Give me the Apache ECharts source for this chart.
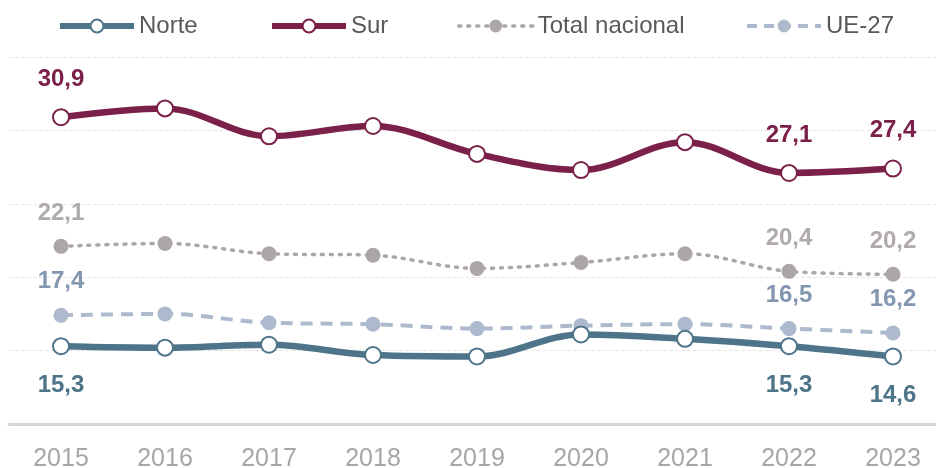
<!DOCTYPE html>
<html>
<head>
<meta charset="utf-8">
<script src="https://cdn.jsdelivr.net/npm/echarts@6/dist/echarts.min.js"></script>
<style>
  html, body { margin: 0; padding: 0; background: #fff; }
  #chart { width: 936px; height: 468px; }
</style>
</head>
<body>
<div id="chart"></div>
<script>
var years = ['2015', '2016', '2017', '2018', '2019', '2020', '2021', '2022', '2023'];
var norte = [15.3, 15.2, 15.4, 14.7, 14.6, 16.1, 15.8, 15.3, 14.6];
var sur = [30.9, 31.5, 29.6, 30.3, 28.4, 27.3, 29.2, 27.1, 27.4];
var totalNacional = [22.1, 22.3, 21.6, 21.5, 20.6, 21.0, 21.6, 20.4, 20.2];
var ue27 = [17.4, 17.5, 16.9, 16.8, 16.5, 16.7, 16.8, 16.5, 16.2];
var labelledIdx = [0, 7, 8];

var labelFmt = function (p) {
    return labelledIdx.indexOf(p.dataIndex) >= 0 ? p.value.toFixed(1).replace('.', ',') : '';
};

var mkLabel = function (color, pos, dist) {
    return {
        show: true,
        position: pos,
        distance: dist,
        formatter: labelFmt,
        color: color,
        fontSize: 24,
        fontWeight: 'bold',
        fontFamily: 'Liberation Sans'
    };
};

var legendBase = function (name, left, lineStyle) {
    return {
        data: [name],
        left: left,
        top: 9,
        itemWidth: 74,
        itemHeight: 16,
        lineStyle: lineStyle,
        textStyle: { color: '#595959', fontSize: 24, fontFamily: 'Liberation Sans' }
    };
};

var option = {
    animation: false,
    legend: [
        legendBase('Norte', 52, { width: 6 }),
        legendBase('Sur', 264, { width: 6 }),
        legendBase('Total nacional', 452, { width: 3.5, type: [2, 7], cap: 'round' }),
        legendBase('UE-27', 740, { width: 4, type: [10, 7] })
    ],
    grid: { left: 9, right: -9, top: 57, bottom: 44, outerBoundsMode: 'none' },
    xAxis: {
        type: 'category',
        data: years,
        boundaryGap: true,
        axisTick: { show: false },
        axisLine: { lineStyle: { color: '#d6d6d6', width: 3 } },
        axisLabel: { color: '#a6a6a6', fontSize: 25, margin: 23, fontFamily: 'Liberation Sans' }
    },
    yAxis: {
        type: 'value',
        min: 10,
        max: 35,
        interval: 5,
        axisLabel: { show: false },
        axisLine: { show: false },
        axisTick: { show: false },
        splitLine: { lineStyle: { color: '#e6e6e6', type: 'dashed', width: 1 } }
    },
    series: [
        {
            name: 'UE-27',
            type: 'line',
            data: ue27,
            smooth: 0.35,
            symbol: 'circle',
            symbolSize: 15,
            itemStyle: { color: '#adb9cc' },
            lineStyle: { color: '#adb9cc', width: 4, type: [12, 8] },
            label: mkLabel('#8497b0', 'top', 14),
            z: 2
        },
        {
            name: 'Total nacional',
            type: 'line',
            data: totalNacional,
            smooth: 0.35,
            symbol: 'circle',
            symbolSize: 15,
            itemStyle: { color: '#aca6a6' },
            lineStyle: { color: '#aca6a6', width: 3.5, type: [2, 7], cap: 'round' },
            label: mkLabel('#b0aaaa', 'top', 13),
            z: 2
        },
        {
            name: 'Norte',
            type: 'line',
            data: norte,
            smooth: 0.35,
            symbol: 'circle',
            symbolSize: 16,
            itemStyle: { color: '#fff', borderColor: '#4e7489', borderWidth: 2 },
            lineStyle: { color: '#4e7489', width: 6.5 },
            label: mkLabel('#4e7489', 'bottom', 18),
            z: 3
        },
        {
            name: 'Sur',
            type: 'line',
            data: sur,
            smooth: 0.35,
            symbol: 'circle',
            symbolSize: 16,
            itemStyle: { color: '#fff', borderColor: '#7b2048', borderWidth: 2 },
            lineStyle: { color: '#7b2048', width: 6.5 },
            label: mkLabel('#7b2048', 'top', 17),
            z: 3
        }
    ]
};

var myChart = echarts.init(document.getElementById('chart'));
myChart.setOption(option);
</script>
</body>
</html>
